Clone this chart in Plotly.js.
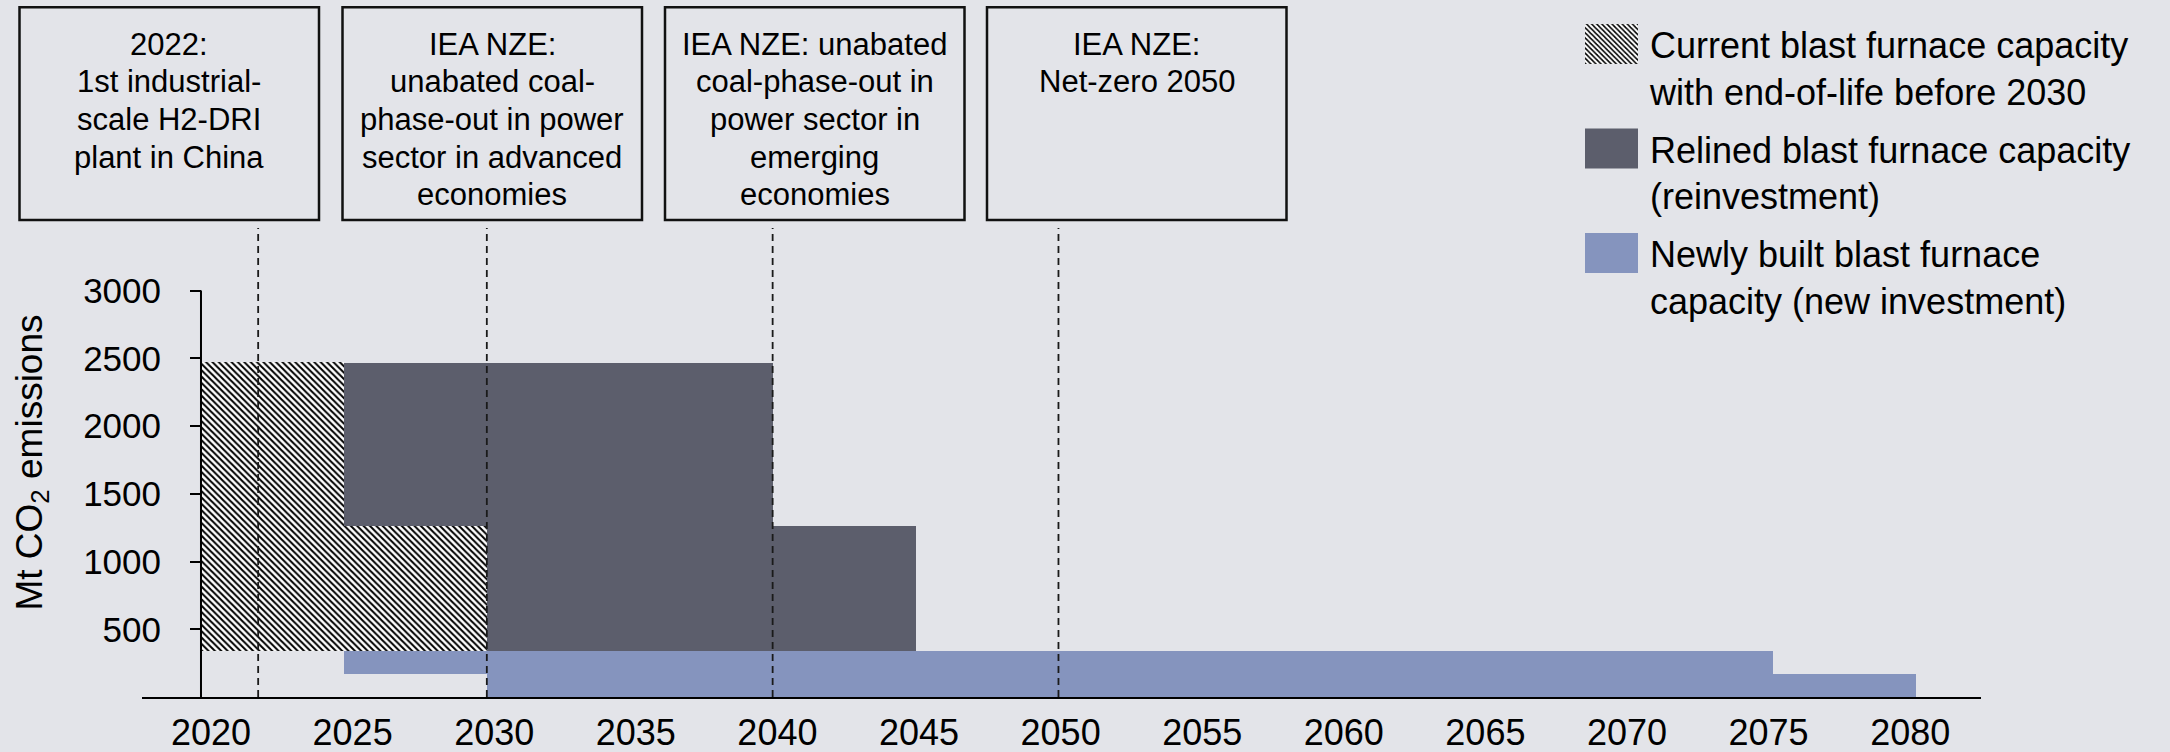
<!DOCTYPE html>
<html>
<head>
<meta charset="utf-8">
<script src="https://cdn.plot.ly/plotly-3.0.1.min.js"></script>
<style>html,body{margin:0;padding:0;background:#e3e4e9;}#chart{width:2170px;height:752px;}</style>
</head>
<body>
<div id="chart"></div>
<script>
// ---- data ----
const currentStart = [2020, 2025];
const currentEnd   = [2025, 2030];
const currentLow   = [340, 340];
const currentHigh  = [2470, 1260];

const relinedStart = [2025, 2030, 2040];
const relinedEnd   = [2030, 2040, 2045];
const relinedLow   = [1260, 340, 340];
const relinedHigh  = [2465, 2465, 1260];

const newStart = [2025, 2030, 2075];
const newEnd   = [2030, 2075, 2080];
const newLow   = [170, 0, 0];
const newHigh  = [340, 340, 170];

const milestoneYears = [2022, 2030, 2040, 2050];
const xTicks = [2020, 2025, 2030, 2035, 2040, 2045, 2050, 2055, 2060, 2065, 2070, 2075, 2080];
const yTicks = [500, 1000, 1500, 2000, 2500, 3000];
const seriesNames = [
  "Current blast furnace capacity<br>with end-of-life before 2030",
  "Relined blast furnace capacity<br>(reinvestment)",
  "Newly built blast furnace<br>capacity (new investment)"
];
const boxTexts = [
  ["2022:", "1st industrial-", "scale H2-DRI", "plant in China"],
  ["IEA NZE:", "unabated coal-", "phase-out in power", "sector in advanced", "economies"],
  ["IEA NZE: unabated", "coal-phase-out in", "power sector in", "emerging", "economies"],
  ["IEA NZE:", "Net-zero 2050"]
];

// ---- layout helpers ----
const FONT = "Liberation Sans, Arial, Helvetica, sans-serif";
const BG = "#e3e4e9";
const M = {l: 142, r: 189, t: 228, b: 55};
const PW = 2170 - M.l - M.r, PH = 752 - M.t - M.b;
const pxX = px => (px - M.l) / PW;
const pxY = py => (752 - M.b - py) / PH;

function barTrace(starts, ends, lows, highs, name, marker, group) {
  return {
    type: "bar",
    name: name,
    legendgroup: group,
    x: starts.map((s, i) => (s + ends[i]) / 2),
    width: starts.map((s, i) => ends[i] - s),
    base: lows,
    y: highs.map((h, i) => h - lows[i]),
    marker: marker,
    hoverinfo: "skip"
  };
}

const traces = [
  barTrace(currentStart, currentEnd, currentLow, currentHigh, seriesNames[0],
    {color: "white", line: {width: 0},
     pattern: {shape: "\\", fgcolor: "black", bgcolor: "white", size: 4.5, solidity: 0.45}}, "a"),
  barTrace(relinedStart, relinedEnd, relinedLow, relinedHigh, seriesNames[1],
    {color: "#5c5e6c", line: {width: 0}}, "b"),
  barTrace(newStart, newEnd, newLow, newHigh, seriesNames[2],
    {color: "#8594be", line: {width: 0}}, "c"),
  // carrier for the tick-label axis (no visible marks)
  {type: "scatter", mode: "none", x: [], y: [], xaxis: "x2", yaxis: "y",
   showlegend: false, hoverinfo: "skip"}
];

const shapes = [];
shapes.push({type: "line", xref: "x", yref: "y", x0: currentStart[0], x1: currentStart[0],
  y0: 0, y1: yTicks[yTicks.length - 1], line: {color: "black", width: 2}, layer: "above"});
milestoneYears.forEach(yr => shapes.push({
  type: "line", xref: "x", yref: "paper", x0: yr, x1: yr, y0: 0, y1: 1,
  line: {color: "#1a1a1a", width: 1.8, dash: "7px,5px"}, layer: "above"}));

const annotations = [];
const boxLeft = [19.5, 342.5, 665, 987], boxW = 299.5, boxTop = 7.3, boxBottom = 220;
boxTexts.forEach((lines, i) => {
  shapes.push({type: "rect", xref: "paper", yref: "paper",
    x0: pxX(boxLeft[i]), x1: pxX(boxLeft[i] + boxW), y0: pxY(boxBottom), y1: pxY(boxTop),
    line: {color: "#111", width: 2.5}, fillcolor: "rgba(0,0,0,0)"});
  lines.forEach((t, k) => annotations.push({
    xref: "paper", yref: "paper", x: pxX(boxLeft[i] + boxW / 2), y: pxY(44 + 37.7 * k),
    xanchor: "center", yanchor: "middle", showarrow: false, text: t,
    font: {family: FONT, size: 31, color: "black"}}));
});

const layout = {
  width: 2170, height: 752,
  margin: M,
  paper_bgcolor: BG, plot_bgcolor: BG,
  font: {family: FONT, color: "black"},
  barmode: "overlay",
  bargap: 0,
  showlegend: true,
  legend: {x: pxX(1573), y: pxY(14), xanchor: "left", yanchor: "top",
    bgcolor: "rgba(0,0,0,0)", font: {family: FONT, size: 36, color: "black"},
    traceorder: "grouped", tracegroupgap: 8, itemwidth: 67, valign: "top"},
  xaxis: {range: [2017.936, 2082.276], showline: true, linecolor: "black", linewidth: 2,
    ticks: "", showticklabels: false, showgrid: false, zeroline: false, automargin: false, fixedrange: true},
  xaxis2: {overlaying: "x", anchor: "y", side: "bottom", range: [2017.563, 2082.50],
    tickmode: "array", tickvals: xTicks, ticktext: xTicks.map(String), ticks: "",
    showline: false, showgrid: false, zeroline: false, automargin: false,
    tickfont: {family: FONT, size: 36, color: "black"}, ticklabelstandoff: 11},
  yaxis: {anchor: "free", position: pxX(201), side: "left", range: [0, 3462],
    tickmode: "array", tickvals: yTicks, ticktext: yTicks.map(String),
    ticks: "outside", ticklen: 11, tickwidth: 2, tickcolor: "black",
    showline: false, showgrid: false, zeroline: false, automargin: false,
    tickfont: {family: FONT, size: 35, color: "black"}, ticklabelstandoff: 22,
    title: {text: "Mt CO<sub>2</sub> emissions", font: {family: FONT, size: 37, color: "black"}, standoff: 28}},
  shapes: shapes,
  annotations: annotations
};

function enlargeSwatches(gd) {
  gd.querySelectorAll("g.legendpoints path").forEach(p => {
    p.setAttribute("d", "M26.5,20H-26.5V-20H26.5Z");
  });
}
Plotly.newPlot("chart", traces, layout, {staticPlot: true, displayModeBar: false}).then(gd => {
  enlargeSwatches(gd);
  setTimeout(() => enlargeSwatches(gd), 300);
});
</script>
</body>
</html>
